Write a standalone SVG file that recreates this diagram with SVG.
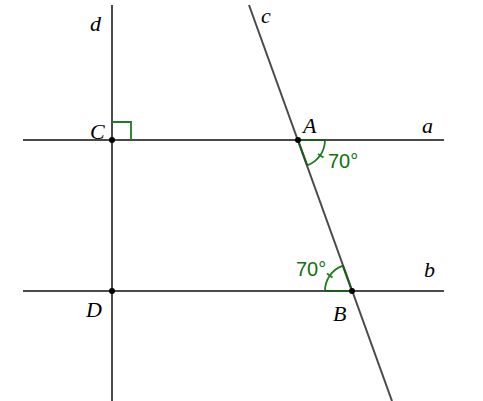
<svg xmlns="http://www.w3.org/2000/svg" width="483" height="401" viewBox="0 0 483 401">
<style>
.ln{stroke:#4a4a4a;stroke-width:2;fill:none}
.ang{stroke:#1e7d1e;stroke-width:1.8;fill:none}
.pt{fill:#000}
.lbl{font-family:"Liberation Serif",serif;font-style:italic;font-size:22px;fill:#000}
.deg{font-family:"Liberation Sans",Arial,sans-serif;font-size:20px;fill:#107010}
</style>
<rect width="483" height="401" fill="#fff"/>
<g id="connectors">
<line class="ln" x1="23" y1="140" x2="444" y2="140"/>
<line class="ln" x1="23" y1="291" x2="444" y2="291"/>
<line class="ln" x1="112" y1="5" x2="112" y2="401"/>
<line class="ln" x1="249" y1="5" x2="392" y2="401"/>
</g>
<g id="angleC">
<path class="ang" d="M112 122 H131 V140"/>
</g>
<g id="angleA">
<path class="ang" d="M325 140 A27 27 0 0 1 307.2 165.4"/>
<line class="ang" x1="318" y1="154" x2="323.5" y2="157.5"/>
<line x1="298" y1="140" x2="325" y2="140" stroke="#1a5c1a" stroke-width="2"/>
<line x1="298" y1="140" x2="307.2" y2="165.4" stroke="#1a5c1a" stroke-width="2"/>
<text class="deg" x="328" y="168">70°</text>
</g>
<g id="angleB">
<path class="ang" d="M325 291 A27 27 0 0 1 342.8 265.6"/>
<line class="ang" x1="327" y1="273.5" x2="332.5" y2="277.5"/>
<line x1="352" y1="291" x2="325" y2="291" stroke="#1a5c1a" stroke-width="2"/>
<line x1="352" y1="291" x2="342.8" y2="265.6" stroke="#1a5c1a" stroke-width="2"/>
<text class="deg" x="296" y="276">70°</text>
</g>
<g id="C"><circle class="pt" cx="112" cy="140" r="3"/><text class="lbl" x="90" y="139">C</text></g>
<g id="A"><circle class="pt" cx="298" cy="140" r="3"/><text class="lbl" x="303" y="133">A</text></g>
<g id="D"><circle class="pt" cx="112" cy="291" r="3"/><text class="lbl" x="86" y="317">D</text></g>
<g id="B"><circle class="pt" cx="352" cy="291" r="3"/><text class="lbl" x="333" y="321">B</text></g>
<g id="d"><text class="lbl" x="90" y="31">d</text></g>
<g id="c"><text class="lbl" x="261" y="23">c</text></g>
<g id="a"><text class="lbl" x="422" y="133">a</text></g>
<g id="b"><text class="lbl" x="424" y="277">b</text></g>
</svg>
